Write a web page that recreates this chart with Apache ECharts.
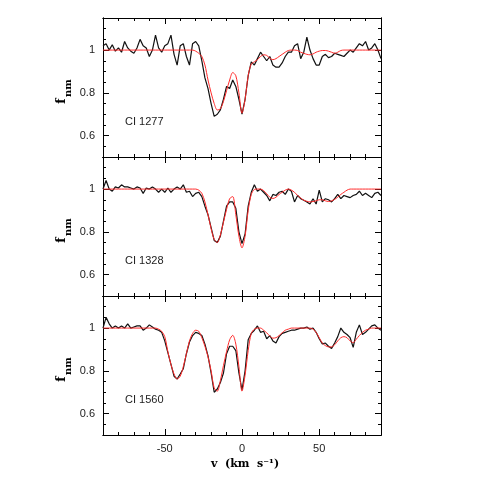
<!DOCTYPE html>
<html>
<head>
<meta charset="utf-8">
<script src="https://cdn.jsdelivr.net/npm/echarts@6/dist/echarts.min.js"></script>
<style>
  html, body { margin: 0; padding: 0; background: #fff; }
  #chart { width: 480px; height: 480px; }
</style>
</head>
<body>
<div id="chart"></div>
<script>
// velocity grid, km/s
var vel = [-90,-88,-86,-84,-82,-80,-78,-76,-74,-72,-70,-68,-66,-64,-62,-60,-58,-56,-54,-52,-50,
  -48,-46,-44,-42,-40,-38,-36,-34,-32,-30,-28,-26,-24,-22,-20,-18,-16,-14,-12,-10,-8,-6,-4,-2,
  0,2,4,6,8,10,12,14,16,18,20,22,24,26,28,30,32,34,36,38,40,42,44,46,48,50,52,54,56,58,60,
  62,64,66,68,70,72,74,76,78,80,82,84,86,88,90];

var lineNames = ['CI 1277', 'CI 1328', 'CI 1560'];
var xTickLabels = [-50, 0, 50];
var yTickLabels = [0.6, 0.8, 1];

// observed spectra (black)
var obs1277 = [1.02,1.03,1.00,1.025,0.995,1.01,0.99,1.04,1.01,0.995,0.985,1.01,1.05,1.02,1.01,0.97,1.00,1.07,1.01,0.99,1.02,
  1.03,1.07,0.98,0.93,1.02,1.03,0.97,0.93,1.03,1.04,1.02,0.95,0.87,0.82,0.75,0.69,0.70,0.72,0.77,0.83,0.82,0.86,0.83,0.77,
  0.70,0.77,0.88,0.945,0.93,0.96,0.99,0.97,0.95,0.97,0.93,0.92,0.92,0.94,0.97,0.99,0.99,1.02,1.03,0.96,0.99,1.06,1.00,0.96,0.93,0.93,0.97,0.98,0.965,0.97,0.985,
  0.98,0.975,0.97,0.985,1.00,0.99,1.01,1.03,1.02,1.04,1.00,1.01,1.03,1.00,0.96];
var obs1328 = [1.00,1.04,1.00,0.99,1.01,1.005,1.02,1.01,1.01,1.005,1.00,1.01,1.005,0.98,1.005,1.00,1.01,1.00,0.985,1.00,0.985,
  1.005,0.985,1.00,1.01,1.00,1.02,0.985,0.99,0.965,0.98,0.985,0.965,0.92,0.88,0.82,0.76,0.75,0.78,0.85,0.92,0.94,0.94,0.91,0.80,
  0.745,0.79,0.92,0.985,1.02,0.99,1.00,0.985,0.97,0.945,0.975,0.97,0.985,0.99,0.975,1.00,0.99,0.94,0.97,0.955,0.948,0.94,0.93,0.955,0.93,0.995,0.94,0.955,0.95,0.94,0.955,
  0.975,0.955,0.97,0.965,0.96,0.97,0.975,0.99,0.97,0.98,0.97,0.96,0.98,0.985,0.97];
var obs1560 = [1.00,1.05,1.02,1.00,1.01,1.00,1.01,1.00,1.02,1.00,1.005,1.01,1.01,0.99,1.00,1.015,1.005,0.995,0.99,0.98,0.94,
  0.885,0.83,0.775,0.762,0.785,0.81,0.88,0.935,0.965,0.98,0.975,0.965,0.925,0.87,0.79,0.70,0.715,0.745,0.79,0.88,0.915,0.915,0.895,0.79,
  0.71,0.80,0.945,0.975,0.99,1.01,0.98,0.985,0.95,0.965,0.94,0.93,0.96,0.975,0.98,0.985,0.99,0.99,0.995,1.00,1.00,1.005,0.995,1.00,0.98,0.95,0.926,0.93,0.915,0.905,0.93,
  0.96,1.00,0.98,0.97,0.955,0.91,0.98,1.015,0.97,0.98,0.995,1.01,1.015,1.00,0.99];

// fitted profiles (red)
var fit1277 = [1,1,1,1,1,1,1,1,1,1,1,1,1,1,1,1,1,1,1,1,1,
  1,1,1,1,1,1,1,1,1,0.995,0.985,0.97,0.93,0.86,0.80,0.75,0.72,0.725,0.76,0.81,0.86,0.895,0.88,0.80,
  0.705,0.77,0.88,0.935,0.945,0.955,0.97,0.978,0.975,0.962,0.955,0.96,0.97,0.98,0.99,0.998,1,1,0.998,0.99,0.985,0.98,0.978,0.982,0.99,0.995,0.998,0.998,0.995,0.99,0.985,
  0.99,0.998,1,1,1,1,1,1,1,1,1,1,1,1,1];
var fit1328 = [1,1,1,1,1,1,1,1,1,1,1,1,1,1,1,1,1,1,1,1,1,
  1,1,1,1,1,1,1,1,1,1,0.995,0.98,0.94,0.88,0.815,0.765,0.75,0.785,0.845,0.905,0.955,0.965,0.88,0.78,
  0.725,0.78,0.90,0.975,0.998,1,1,0.993,0.978,0.962,0.956,0.962,0.975,0.985,0.995,1,0.995,0.985,0.97,0.958,0.948,0.943,0.94,0.942,0.945,0.95,0.95,0.945,0.942,0.945,0.952,
  0.962,0.975,0.985,0.995,1,1,1,1,1,1,1,1,1,1,1];
var fit1560 = [1,1,1,1,1,1,1,1,1,1,1,1,1,1,1,1,1,1,0.995,0.985,0.96,
  0.89,0.83,0.785,0.762,0.775,0.82,0.88,0.94,0.975,0.99,0.985,0.955,0.915,0.865,0.80,0.72,0.705,0.755,0.825,0.89,0.945,0.966,0.925,0.82,
  0.705,0.78,0.895,0.975,0.995,1,1,0.99,0.978,0.963,0.953,0.955,0.965,0.978,0.99,0.995,1,1,1,1,1,1,1,0.995,0.98,0.955,0.93,0.918,0.912,0.912,0.922,
  0.94,0.955,0.96,0.955,0.94,0.932,0.948,0.965,0.98,0.99,0.995,1,1,1,1];

var observed = [obs1277, obs1328, obs1560];
var fitted = [fit1277, fit1328, fit1560];

var gridTops = [18, 157, 296];
var gridH = 139;
var labelFont = 'Liberation Sans';

function pairs(arr) {
  return vel.map(function (v, i) { return [v, arr[i]]; });
}

function xAxisFor(g, pos, major, showLabel) {
  var tick = { show: true, inside: true, length: major ? 6 : 3, lineStyle: { color: '#000', width: 1 } };
  if (major) tick.customValues = xTickLabels;
  return {
    type: 'value', gridIndex: g, position: pos, min: -90, max: 90, interval: 10,
    axisLine: { show: true, onZero: false, lineStyle: { color: '#000', width: 1 } },
    axisTick: tick,
    axisLabel: { show: showLabel, customValues: xTickLabels, margin: 8, color: '#222', fontSize: 11, fontFamily: labelFont },
    splitLine: { show: false }
  };
}

function yAxisFor(g, pos, major, showLabel) {
  var tick = { show: true, inside: true, length: major ? 6 : 3, lineStyle: { color: '#000', width: 1 } };
  if (major) tick.customValues = yTickLabels;
  return {
    type: 'value', gridIndex: g, position: pos, min: 0.5, max: 1.15, interval: 0.05,
    axisLine: { show: true, onZero: false, lineStyle: { color: '#000', width: 1 } },
    axisTick: tick,
    axisLabel: {
      show: showLabel, customValues: yTickLabels, margin: 8, color: '#222', fontSize: 11, fontFamily: labelFont,
      formatter: function (v) { return Math.abs(v - 1) < 1e-6 ? '1' : v.toFixed(1); }
    },
    splitLine: { show: false }
  };
}

var grids = [], xAxes = [], yAxes = [], series = [], graphics = [];
for (var g = 0; g < 3; g++) {
  grids.push({ left: 103, right: 99, top: gridTops[g], height: gridH, containLabel: false });
  // x: bottom minor, bottom major, top minor, top major
  xAxes.push(xAxisFor(g, 'bottom', false, false));
  xAxes.push(xAxisFor(g, 'bottom', true, g === 2));
  xAxes.push(xAxisFor(g, 'top', false, false));
  xAxes.push(xAxisFor(g, 'top', true, false));
  // y: left minor, left major, right minor, right major
  yAxes.push(yAxisFor(g, 'left', false, false));
  yAxes.push(yAxisFor(g, 'left', true, true));
  yAxes.push(yAxisFor(g, 'right', false, false));
  yAxes.push(yAxisFor(g, 'right', true, false));

  series.push({
    type: 'line', xAxisIndex: g * 4, yAxisIndex: g * 4, data: pairs(observed[g]),
    showSymbol: false, silent: true, lineStyle: { color: '#111', width: 1.2 }, z: 2
  });
  series.push({
    type: 'line', xAxisIndex: g * 4, yAxisIndex: g * 4, data: pairs(fitted[g]),
    showSymbol: false, silent: true, smooth: 0.3, lineStyle: { color: '#ff2a2a', width: 1 }, z: 3
  });

  // panel label
  graphics.push({
    type: 'text', left: 125, top: gridTops[g] + 98,
    style: { text: lineNames[g], fill: '#222', font: '11px ' + labelFont }
  });
  // y title f_nm (rotated, subscript shifted right)
  graphics.push({
    type: 'text', x: 68, y: gridTops[g] + 86, rotation: Math.PI / 2,
    style: { text: 'f', fill: '#000', font: 'bold 13px "DejaVu Serif"', align: 'left', verticalAlign: 'bottom' }
  });
  graphics.push({
    type: 'text', x: 73, y: gridTops[g] + 79, rotation: Math.PI / 2,
    style: { text: 'nm', fill: '#000', font: 'bold 10px "DejaVu Serif"', align: 'left', verticalAlign: 'bottom' }
  });
}

// x title
graphics.push({
  type: 'text', x: 245, y: 459,
  style: { text: 'v  (km  s\u207B\u00B9)', fill: '#000', font: 'bold 11px "DejaVu Serif"', align: 'center', verticalAlign: 'top' }
});

var chart = echarts.init(document.getElementById('chart'));
chart.setOption({
  animation: false,
  backgroundColor: '#fff',
  grid: grids,
  xAxis: xAxes,
  yAxis: yAxes,
  series: series,
  graphic: graphics
});
</script>
</body>
</html>
